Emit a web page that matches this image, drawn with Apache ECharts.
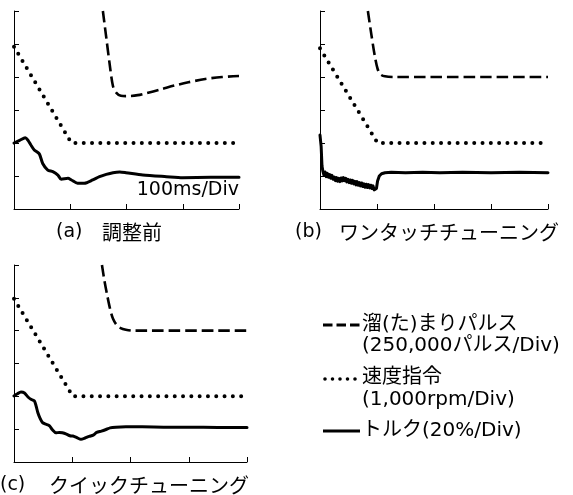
<!DOCTYPE html>
<html>
<head>
<meta charset="utf-8">
<script src="https://cdn.jsdelivr.net/npm/echarts@6/dist/echarts.min.js"></script>
<style>
  html, body { margin: 0; padding: 0; background: #fff; }
  #chart { width: 573px; height: 495px; }
</style>
</head>
<body>
<div id="chart"></div>
<script>
// ---- Data (x in 100ms divisions, y in divisions) ----
const panelLabels = ['(a)', '(b)', '(c)'];
const panelTitles = ['調整前', 'ワンタッチチューニング', 'クイックチューニング'];
const timeScaleLabel = '100ms/Div';

const legendPulse = ['溜(た)まりパルス', '(250,000パルス/Div)'];
const legendSpeed = ['速度指令', '(1,000rpm/Div)'];
const legendTorque = ['トルク(20%/Div)'];

// (a) before tuning
const pulseA = [[1.58,6.0],[1.64,5.2],[1.70,4.4],[1.76,3.72],[1.82,3.52],[1.90,3.43],[2.0,3.42],[2.2,3.45],[2.35,3.51],[2.6,3.62],[2.85,3.74],[3.1,3.84],[3.4,3.94],[3.7,4.0],[4.0,4.03]];
const speedA = [[0,4.92],[1.02,2.0],[4.0,2.0]];
const torqueA = [[0,2.0],[0.1,2.08],[0.2,2.16],[0.25,2.08],[0.30,1.94],[0.36,1.79],[0.45,1.67],[0.51,1.38],[0.60,1.18],[0.69,1.13],[0.78,1.03],[0.84,0.90],[0.96,0.93],[1.02,0.88],[1.13,0.78],[1.25,0.78],[1.40,0.88],[1.52,0.98],[1.64,1.05],[1.76,1.10],[1.88,1.12],[1.99,1.10],[2.29,1.03],[2.71,0.98],[3.0,0.95],[3.5,0.96],[4.0,0.96]];

// (b) one-touch tuning
const pulseB = [[0.84,6.0],[0.90,5.3],[0.96,4.65],[1.01,4.25],[1.06,4.08],[1.14,4.02],[1.3,4.0],[4.0,4.0]];
const speedB = [[0,4.87],[1.01,2.0],[4.0,2.0]];
const torqueB = [[0,2.24],[0.02,1.9],[0.035,1.3],[0.05,1.15],[0.07,1.02],[0.09,1.12],[0.11,0.98],[0.13,1.08],[0.15,0.96],[0.17,1.04],[0.19,0.93],[0.21,1.02],[0.23,0.90],[0.25,0.97],[0.27,0.86],[0.29,0.95],[0.31,0.84],[0.33,0.93],[0.35,0.83],[0.37,0.94],[0.39,0.85],[0.41,0.95],[0.43,0.86],[0.45,0.93],[0.47,0.82],[0.49,0.90],[0.51,0.80],[0.53,0.88],[0.55,0.78],[0.57,0.87],[0.59,0.76],[0.61,0.84],[0.63,0.73],[0.65,0.83],[0.67,0.72],[0.69,0.80],[0.71,0.70],[0.73,0.79],[0.75,0.68],[0.77,0.76],[0.79,0.66],[0.81,0.75],[0.83,0.65],[0.85,0.74],[0.87,0.64],[0.89,0.72],[0.91,0.62],[0.93,0.70],[0.95,0.58],[0.97,0.55],[0.99,0.62],[1.01,0.85],[1.04,1.0],[1.08,1.07],[1.14,1.10],[1.25,1.11],[1.5,1.10],[1.8,1.11],[2.1,1.10],[2.5,1.11],[3.0,1.10],[3.5,1.11],[4.0,1.10]];

// (c) quick tuning
const pulseC = [[1.51,6.0],[1.55,5.55],[1.60,5.08],[1.65,4.66],[1.70,4.36],[1.76,4.18],[1.83,4.08],[1.92,4.03],[2.05,4.0],[4.0,4.0]];
const speedC = [[0,4.97],[1.01,2.0],[4.0,2.0]];
const torqueC = [[0,2.01],[0.06,2.08],[0.12,2.13],[0.18,2.1],[0.24,1.98],[0.29,1.91],[0.35,1.86],[0.38,1.7],[0.41,1.5],[0.45,1.32],[0.49,1.2],[0.55,1.15],[0.61,1.1],[0.66,0.98],[0.72,0.89],[0.78,0.9],[0.83,0.89],[0.90,0.85],[0.96,0.8],[1.01,0.79],[1.08,0.74],[1.15,0.69],[1.22,0.73],[1.29,0.78],[1.36,0.82],[1.42,0.9],[1.50,0.94],[1.58,0.99],[1.65,1.04],[1.75,1.06],[1.92,1.07],[2.2,1.07],[2.6,1.06],[3.0,1.06],[3.5,1.05],[4.0,1.05]];

// ---- Styles ----
const FONT = '"DejaVu Sans", "Noto Sans CJK JP", sans-serif';
const CJK = '"Noto Sans CJK JP", "DejaVu Sans", sans-serif';
const dashStyle = { color: '#000', width: 2.6, type: [11.5, 5], cap: 'butt' };
const dotStyle = { color: '#000', width: 4, type: [0, 8.3], cap: 'round' };
const solidStyle = { color: '#000', width: 3, type: 'solid', join: 'round', cap: 'round' };

const grids = [
  { left: 14, top: 11, width: 225, height: 198 },
  { left: 320, top: 11, width: 228, height: 198 },
  { left: 14, top: 265, width: 233, height: 197 }
];

function xAxis(i) {
  return {
    type: 'value', gridIndex: i, min: 0, max: 4, interval: 1,
    axisLine: { show: true, onZero: false, lineStyle: { color: '#000', width: 1 } },
    axisTick: { show: true, inside: true, length: 5, lineStyle: { color: '#000', width: 1 } },
    axisLabel: { show: false }, splitLine: { show: false }
  };
}
function yAxis(i) {
  return {
    type: 'value', gridIndex: i, min: 0, max: 6, interval: 1,
    axisLine: { show: true, onZero: false, lineStyle: { color: '#000', width: 1 } },
    axisTick: { show: true, inside: true, length: 5, lineStyle: { color: '#000', width: 1 } },
    axisLabel: { show: false }, splitLine: { show: false }
  };
}
function lineSeries(name, i, data, style, smooth) {
  return {
    name: name, type: 'line', xAxisIndex: i, yAxisIndex: i, data: data,
    showSymbol: false, symbol: 'none', smooth: smooth, lineStyle: style,
    animation: false, silent: true, clip: true
  };
}

const series = [];
const sets = [[pulseA, speedA, torqueA, 0.25], [pulseB, speedB, torqueB, false], [pulseC, speedC, torqueC, 0.25]];
sets.forEach(function (s, i) {
  series.push(lineSeries(legendPulse[0], i, s[0], dashStyle, 0.3));
  series.push(lineSeries(legendSpeed[0], i, s[1], dotStyle, false));
  series.push(lineSeries(legendTorque[0], i, s[2], solidStyle, s[3]));
});

function txt(text, x, y, size, family, align) {
  return { type: 'text', x: x, y: y, silent: true,
    style: { text: text, fill: '#000', fontSize: size, fontFamily: family, align: align || 'left', verticalAlign: 'middle' } };
}
function sample(x1, x2, y, st) {
  return { type: 'line', silent: true, shape: { x1: x1, y1: y, x2: x2, y2: y }, style: st };
}

const graphics = [
  txt(timeScaleLabel, 239, 190, 19, FONT, 'right'),
  txt(panelLabels[0], 56, 232, 19, FONT),
  txt(panelTitles[0], 102, 232, 20, CJK),
  txt(panelLabels[1], 295, 232, 19, FONT),
  txt(panelTitles[1], 339, 232, 20, CJK),
  txt(panelLabels[2], 0, 485, 19, FONT),
  txt(panelTitles[2], 49, 485, 20, CJK),
  sample(323, 360, 325, { stroke: '#000', lineWidth: 3, lineDash: [9.5, 4] }),
  txt(legendPulse[0], 362, 325, 20, FONT),
  txt(legendPulse[1], 362, 346, 20, FONT),
  sample(325, 358, 379, { stroke: '#000', lineWidth: 3.6, lineDash: [0, 7.5], lineCap: 'round' }),
  txt(legendSpeed[0], 362, 378, 20, FONT),
  txt(legendSpeed[1], 362, 400, 20, FONT),
  sample(323, 360, 431, { stroke: '#000', lineWidth: 3 }),
  txt(legendTorque[0], 362, 431, 20, FONT)
];

const chart = echarts.init(document.getElementById('chart'), null, { renderer: 'canvas' });
chart.setOption({
  backgroundColor: '#fff',
  animation: false,
  grid: grids,
  xAxis: [xAxis(0), xAxis(1), xAxis(2)],
  yAxis: [yAxis(0), yAxis(1), yAxis(2)],
  series: series,
  graphic: graphics
});
</script>
</body>
</html>
